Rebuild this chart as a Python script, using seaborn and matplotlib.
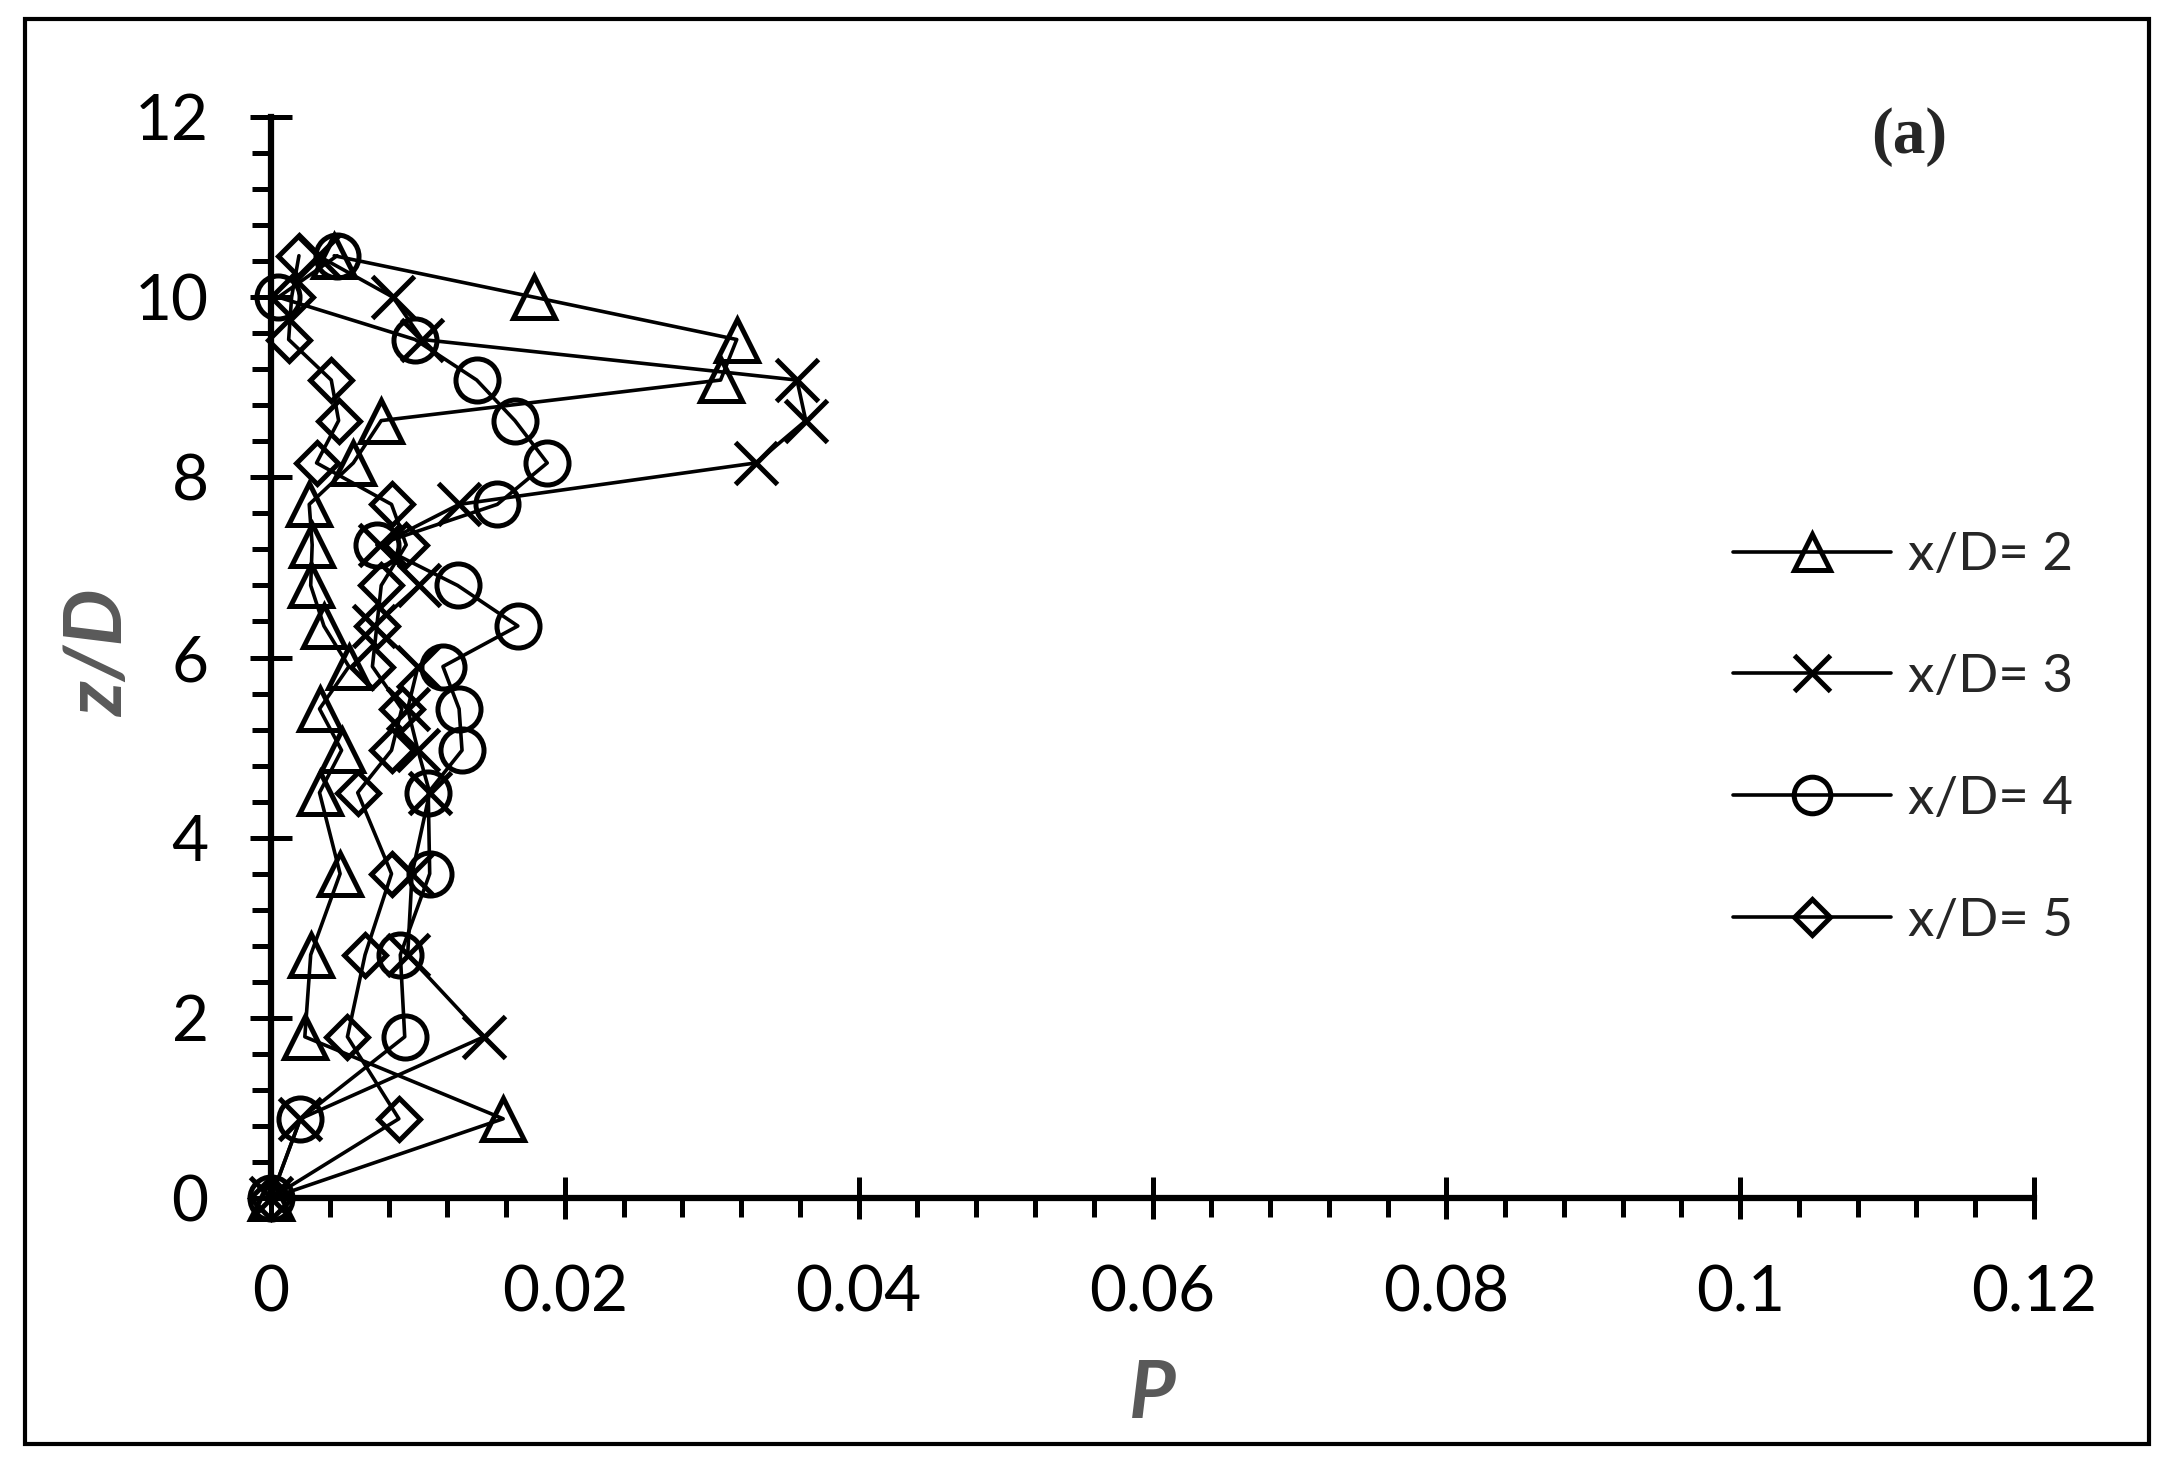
import matplotlib
matplotlib.use("Agg")
import matplotlib.pyplot as plt
import numpy as np
import pandas as pd
import seaborn as sns
from matplotlib.ticker import MultipleLocator, FuncFormatter

# z/D levels (same sampling heights for every profile)
z_levels = [0.0, 0.88, 1.79, 2.70, 3.60, 4.50, 4.97, 5.43, 5.90, 6.35,
            6.80, 7.25, 7.70, 8.16, 8.63, 9.08, 9.53, 10.00, 10.46]

p_xd2 = [0.0, 0.0158, 0.0023, 0.0027, 0.0047, 0.0033, 0.0048, 0.0033, 0.0053, 0.0036,
         0.0027, 0.0028, 0.0026, 0.0056, 0.0075, 0.0306, 0.0317, 0.0179, 0.0043]
p_xd3 = [0.0, 0.0020, 0.0145, 0.0093, 0.0096, 0.0108, 0.0100, 0.0093, 0.0100, 0.0070,
         0.0101, 0.0074, 0.0128, 0.0330, 0.0364, 0.0358, 0.0103, 0.0083, 0.0032]
p_xd4 = [0.0, 0.0020, 0.0091, 0.0088, 0.0108, 0.0107, 0.0130, 0.0128, 0.0117, 0.0168,
         0.0127, 0.0072, 0.0154, 0.0188, 0.0166, 0.0140, 0.0098, 0.0005, 0.0045]
p_xd5 = [0.0, 0.0087, 0.0052, 0.0064, 0.0082, 0.0059, 0.0082, 0.0089, 0.0069, 0.0072,
         0.0075, 0.0092, 0.0082, 0.0031, 0.0046, 0.0041, 0.0012, 0.0014, 0.0019]

series_labels = ["x/D= 2", "x/D= 3", "x/D= 4", "x/D= 5"]
series_values = [p_xd2, p_xd3, p_xd4, p_xd5]
x_ticks = [0, 0.02, 0.04, 0.06, 0.08, 0.1, 0.12]
y_ticks = [0, 2, 4, 6, 8, 10, 12]

marker_styles = {
    "x/D= 2": dict(marker="^", ms=30),
    "x/D= 3": dict(marker="x", ms=30),
    "x/D= 4": dict(marker="o", ms=31),
    "x/D= 5": dict(marker="D", ms=21),
}

sns.set_style("ticks")
plt.rcParams["font.family"] = ["Lato", "DejaVu Sans"]

fig = plt.figure(figsize=(21.77, 14.68), dpi=100)
ax = fig.add_axes([0.1245, 0.1839, 0.9343 - 0.1245, 0.9203 - 0.1839])

for label, values in zip(series_labels, series_values):
    df = pd.DataFrame({"P": values, "z": z_levels})
    sns.lineplot(data=df, x="P", y="z", orient="y", estimator=None, ax=ax,
                 color="black", lw=2.6, mfc="none", mec="black", mew=3.6,
                 clip_on=False, label=label, **marker_styles[label])

ax.set_xlim(0, 0.12)
ax.set_ylim(0, 12)
ax.set_xticks(x_ticks)
ax.set_yticks(y_ticks)
ax.xaxis.set_major_formatter(FuncFormatter(lambda v, _: f"{round(v, 4):g}"))
ax.xaxis.set_minor_locator(MultipleLocator(0.004))
ax.yaxis.set_minor_locator(MultipleLocator(0.4))

for side in ["top", "right"]:
    ax.spines[side].set_visible(False)
for side in ["left", "bottom"]:
    ax.spines[side].set_linewidth(4.5)
    ax.spines[side].set_color("black")

ax.tick_params(which="major", direction="inout", length=30, width=3.6,
               labelsize=46, color="black", labelcolor="black", pad=30)
ax.tick_params(which="minor", direction="out", length=14, width=3.6, color="black")
ax.tick_params(axis="x", which="major", pad=33)

label_font = dict(fontsize=58, fontweight="bold", fontstyle="italic", color="#595959")
ax.set_xlabel("P", **label_font)
ax.set_ylabel("z/D", **label_font)
ax.xaxis.set_label_coords(0.5, -0.148)
ax.yaxis.set_label_coords(-0.076, 0.504)

ax.legend(loc="center left", bbox_to_anchor=(0.796, 0.497), bbox_transform=fig.transFigure,
          frameon=False, fontsize=38, handlelength=3.0, handletextpad=0.32,
          labelspacing=1.42, borderpad=0, borderaxespad=0, markerscale=0.85)

fig.text(0.877, 0.907, "(a)", fontsize=47, fontweight="bold",
         family=["Liberation Serif", "DejaVu Serif"], ha="center", va="center")

fig.patches.append(plt.Rectangle((0.0115, 0.0163), 0.9755, 0.9707, transform=fig.transFigure,
                                 fill=False, lw=3, ec="black"))

fig.savefig("out.png", dpi=100)
